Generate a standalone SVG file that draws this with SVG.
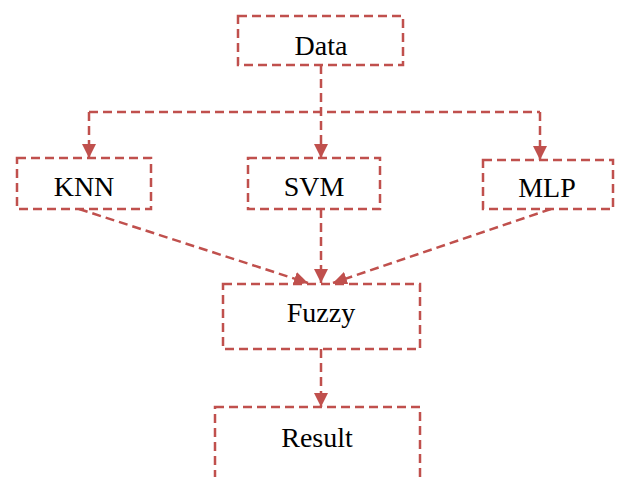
<svg xmlns="http://www.w3.org/2000/svg" width="619" height="477" viewBox="0 0 619 477">
  <style>
    .box { fill: #ffffff; stroke: #C0504D; stroke-width: 2.5; stroke-dasharray: 9 5; }
    .edge { fill: none; stroke: #C0504D; stroke-width: 2.5; stroke-dasharray: 9 5; }
    .label { font-family: "Liberation Serif", "Times New Roman", serif; font-size: 28px; fill: #000000; text-anchor: middle; dominant-baseline: central; }
  </style>
  <defs>
    <marker id="arrow" viewBox="0 0 10 10" refX="10" refY="5" markerWidth="5.6" markerHeight="6" markerUnits="strokeWidth" orient="auto">
      <path d="M0,0 L10,5 L0,10 z" fill="#C0504D"/>
    </marker>
  </defs>
  <rect width="619" height="477" fill="#ffffff"/>

  <g id="connectors">
    <path class="edge" d="M321,65 L321,158" marker-end="url(#arrow)"/>
    <path class="edge" d="M89,112 L540,112"/>
    <path class="edge" d="M89,112 L89,158" marker-end="url(#arrow)"/>
    <path class="edge" d="M540,112 L540,160" marker-end="url(#arrow)"/>
    <path class="edge" d="M79,209 L308,283" marker-end="url(#arrow)"/>
    <path class="edge" d="M321,209 L321,283" marker-end="url(#arrow)"/>
    <path class="edge" d="M551,209 L333,283" marker-end="url(#arrow)"/>
    <path class="edge" d="M321,349 L321,407" marker-end="url(#arrow)"/>
  </g>

  <g id="node-data">
    <rect class="box" x="238" y="16" width="165" height="49"/>
    <text class="label" x="321" y="45">Data</text>
  </g>
  <g id="node-knn">
    <rect class="box" x="17" y="158" width="134" height="51"/>
    <text class="label" x="84" y="186">KNN</text>
  </g>
  <g id="node-svm">
    <rect class="box" x="248" y="158" width="132" height="51"/>
    <text class="label" x="314" y="186">SVM</text>
  </g>
  <g id="node-mlp">
    <rect class="box" x="483" y="160" width="130" height="49"/>
    <text class="label" x="547" y="187">MLP</text>
  </g>
  <g id="node-fuzzy">
    <rect class="box" x="223" y="284" width="197" height="65"/>
    <text class="label" x="321" y="312">Fuzzy</text>
  </g>
  <g id="node-result">
    <rect class="box" x="215" y="407" width="205" height="90"/>
    <text class="label" x="317" y="437">Result</text>
  </g>
</svg>
